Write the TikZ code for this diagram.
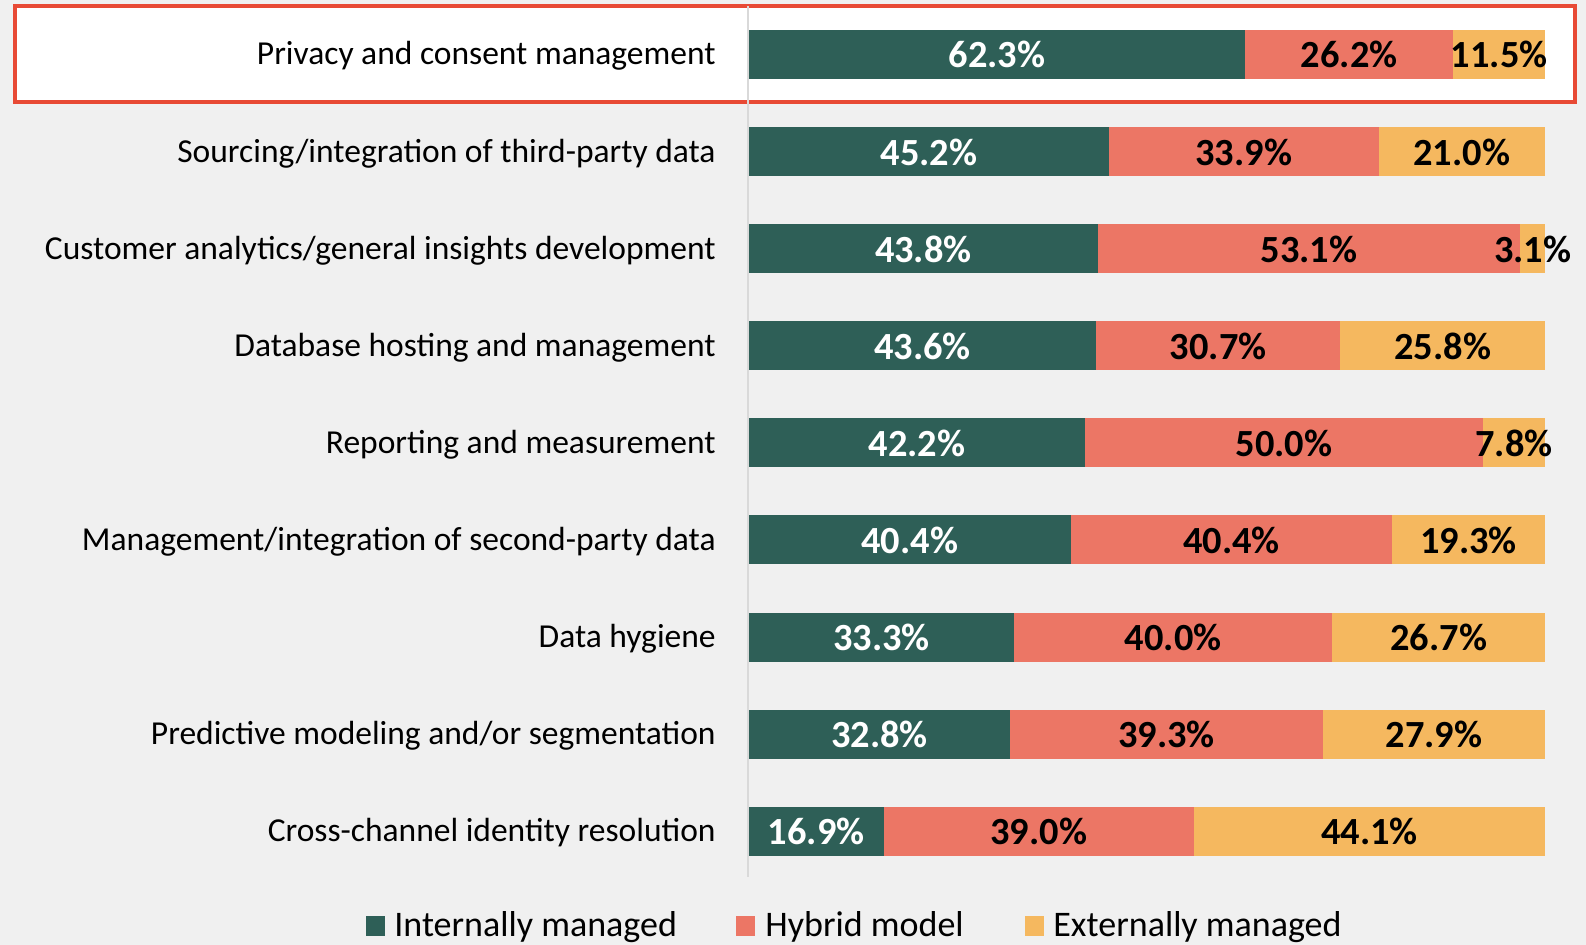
\documentclass[tikz,border=0pt]{standalone}
\usepackage{fontspec}
\setmainfont{Carlito}
\usepackage{tikz}

\definecolor{intgreen}{RGB}{46,95,87}
\definecolor{hybred}{RGB}{236,118,101}
\definecolor{extorange}{RGB}{245,184,95}
\definecolor{boxred}{RGB}{232,74,53}
\definecolor{bggray}{RGB}{240,240,240}
\definecolor{axisgray}{RGB}{217,217,217}

\tikzset{
  lab/.style={anchor=base east, inner sep=0pt},
  pct/.style={anchor=base, inner sep=0pt, font=\fontsize{19.2}{21}\selectfont\bfseries},
  leg/.style={anchor=base west, inner sep=0pt, font=\fontsize{18}{20}\selectfont}
}

\begin{document}
\begin{tikzpicture}[x=0.5pt, y=-0.5pt]

  \fontsize{16.75}{20}\selectfont

  \newcommand\X{7.96}
  \newcommand\Y{97.1}
  \newcommand\BarRow[5]{%
    \fill[intgreen] (749, 30+#1*\Y) rectangle (749+#3*\X, 79+#1*\Y);
    \fill[hybred] (749+#3*\X, 30+#1*\Y) rectangle (749+#3*\X+#4*\X, 79+#1*\Y);
    \fill[extorange] (749+#3*\X+#4*\X, 30+#1*\Y) rectangle (1545, 79+#1*\Y);
    \node[lab] (lab#1) at (716, 65+#1*\Y) {#2};
    \node[pct, white] (int#1) at (749+#3*\X/2, 68+#1*\Y) {#3\%};
    \node[pct] (hyb#1) at (749+#3*\X+#4*\X/2, 68+#1*\Y) {#4\%};
    \node[pct] (ext#1) at ({(749+#3*\X+#4*\X+1545)/2}, 68+#1*\Y) {#5\%};
  }

  \useasboundingbox (0,0) rectangle (1586,945);
  \fill[bggray] (0,0) rectangle (1586,945);

  %% highlighted row
  \draw[boxred, line width=2pt, fill=white] (15,6) rectangle (1575,102);
  \draw[axisgray, line width=0.8pt] (748,6) -- (748,877);

  \BarRow{0}{Privacy and consent management}{62.3}{26.2}{11.5}
  \BarRow{1}{Sourcing/integration of third-party data}{45.2}{33.9}{21.0}
  \BarRow{2}{Customer analytics/general insights development}{43.8}{53.1}{3.1}
  \BarRow{3}{Database hosting and management}{43.6}{30.7}{25.8}
  \BarRow{4}{Reporting and measurement}{42.2}{50.0}{7.8}
  \BarRow{5}{Management/integration of second-party data}{40.4}{40.4}{19.3}
  \BarRow{6}{Data hygiene}{33.3}{40.0}{26.7}
  \BarRow{7}{Predictive modeling and/or segmentation}{32.8}{39.3}{27.9}
  \BarRow{8}{Cross-channel identity resolution}{16.9}{39.0}{44.1}

  %% legend
  \fill[intgreen] (366,916) rectangle (385,936);
  \node[leg] (legint) at (394,937) {Internally managed};
  \fill[hybred] (736,916) rectangle (755,936);
  \node[leg] (leghyb) at (765,937) {Hybrid model};
  \fill[extorange] (1025,916) rectangle (1044,936);
  \node[leg] (legext) at (1053,937) {Externally managed};
\end{tikzpicture}
\end{document}
